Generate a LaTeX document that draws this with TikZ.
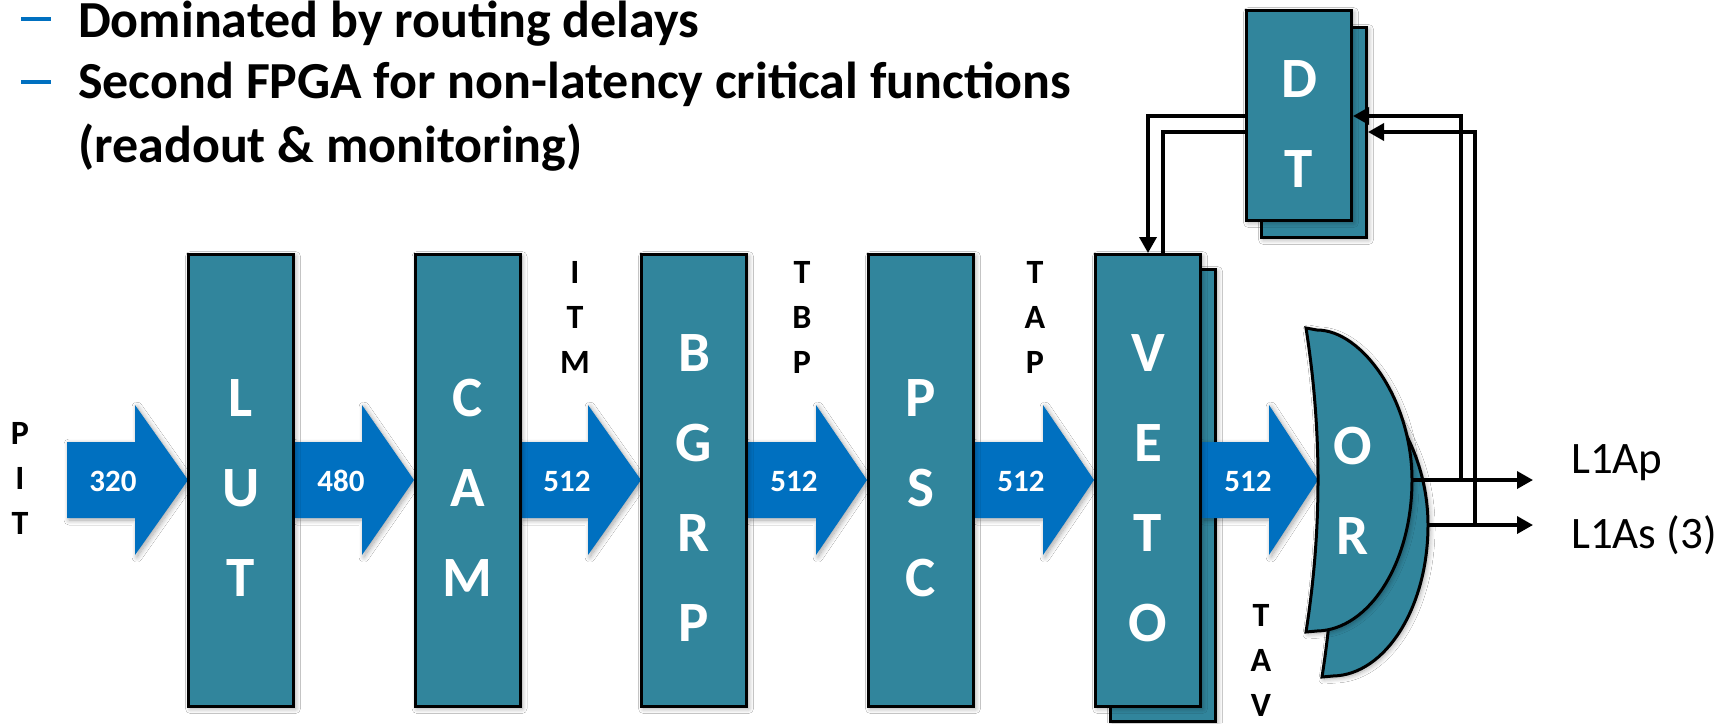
\documentclass[tikz,border=0pt]{standalone}
\usepackage{fontspec}
\setmainfont{Carlito}
\usetikzlibrary{arrows.meta,shadows.blur,calc}
\definecolor{stageteal}{HTML}{31859C}
\definecolor{flowblue}{HTML}{0070C0}

\tikzset{
  softshadow/.style={blur shadow={shadow xshift=2pt, shadow yshift=-2pt,
      shadow blur radius=5pt, shadow blur steps=10, shadow opacity=35}},
  stage/.style={draw=black, line width=3pt, fill=stageteal, inner sep=0pt,
      minimum width=105pt, minimum height=452pt, softshadow},
  stageletters/.style={text=white, inner sep=0pt, align=center,
      font=\fontsize{57}{90}\selectfont\bfseries},
  sideletters/.style={inner sep=0pt, align=center,
      font=\fontsize{34}{45}\selectfont\bfseries},
  buswidth/.style={text=white, inner sep=0pt,
      font=\fontsize{31}{31}\selectfont\bfseries},
  flowarrow/.style={fill=flowblue, softshadow},
  gate/.style={draw=black, line width=3pt, fill=stageteal, softshadow},
  wire/.style={draw=black, line width=3.5pt},
  wiretip/.style={-{Triangle[length=16pt,width=17pt]}},
  headline/.style={inner sep=0pt, anchor=base west,
      font=\fontsize{52}{62}\selectfont\bfseries},
  outlabel/.style={inner sep=0pt, anchor=base west,
      font=\fontsize{45}{45}\selectfont},
  bulletdash/.style={draw=flowblue, line width=4pt},
}

% wide block arrow: tail x, head base x, tip x, label, label name
\newcommand\busarrow[5]{%
  \fill[flowarrow] (#1,442) -- (#2,442) -- (#2,405) -- (#3,480)
    -- (#2,555) -- (#2,518) -- (#1,518) -- cycle;
  \node[buswidth] (#5) at (#1+46,481) {#4};
}

% OR gate outline, drawn at the current origin
\newcommand\orgate{%
  (1306,328) -- (1317,330)
  .. controls (1362,330) and (1412,400) .. (1412,480)
  .. controls (1412,563) and (1369,630) .. (1317,631)
  -- (1306,632)
  .. controls (1322,530) and (1322,430) .. (1306,328) -- cycle}

\begin{document}
\begin{tikzpicture}[x=1pt,y=-1pt]
\fill[white] (0,0) rectangle (1734,723);
\useasboundingbox (0,0) rectangle (1734,723);

% bullet lines
\draw[bulletdash] (21,19) -- (51,19);
\draw[bulletdash] (21,82) -- (51,82);
\node[headline] (line1) at (78,37) {Dominated by routing delays};
\node[headline] (line2) at (78,98) {Second FPGA for non-latency critical functions};
\node[headline] (line3) at (78,162) {(readout \& monitoring)};

% stacked copies behind the VETO and DT stages
\node[stage] (vetoback) at (1163,495.5) {};
\node[stage, minimum height=210pt] (dtback) at (1314,132.5) {};

% data flow between the stages
\busarrow{67}{135}{188}{320}{bus1}
\busarrow{295}{362}{414}{480}{bus2}
\busarrow{521}{588}{641}{512}{bus3}
\busarrow{748}{816}{867}{512}{bus4}
\busarrow{975}{1043}{1094}{512}{bus5}
\busarrow{1202}{1269}{1318}{512}{bus6}

% processing stages
\node[stage] (lut)  at (241,480.5) {};
\node[stage] (cam)  at (467.5,480.5) {};
\node[stage] (bgrp) at (694,480.5) {};
\node[stage] (psc)  at (921,480.5) {};
\node[stage] (veto) at (1148,480.5) {};
\node[stage, minimum height=210pt] (dt) at (1299,115.5) {};

\node[stageletters] (lutname)  at (241,488)   {L\\U\\T};
\node[stageletters] (camname)  at (467.5,488) {C\\A\\M};
\node[stageletters] (bgrpname) at (694,488)   {B\\G\\R\\P};
\node[stageletters] (pscname)  at (921,488)   {P\\S\\C};
\node[stageletters] (vetoname) at (1148,488)  {V\\E\\T\\O};
\node[stageletters] (dtname)   at (1299,124)  {D\\T};

% OR gate with its copy
\begin{scope}[shift={(16,45)}]
  \path[gate] \orgate;
\end{scope}
\path[gate] \orgate;
\node[stageletters] (orname) at (1353,491) {O\\R};

% signal names beside the buses
\node[sideletters] (pit) at (20,478)   {P\\I\\T};
\node[sideletters] (itm) at (575,317)  {I\\T\\M};
\node[sideletters] (tbp) at (802,317)  {T\\B\\P};
\node[sideletters] (tap) at (1035,317) {T\\A\\P};
\node[sideletters] (tav) at (1261,660)  {T\\A\\V};

% outputs and the dead-time loop
\coordinate (orout1) at (1412,480);
\coordinate (orout2) at (1428,525);
\coordinate (tap1) at (1461,480);
\coordinate (tap2) at (1475,525);
\coordinate (l1ap) at (1533,480);
\coordinate (l1as) at (1533,525);

\draw[wire,wiretip] (dt.west |- 0,116) -| (veto.north -| 1148,0);
\draw[wire] (dt.west |- 0,132) -| (veto.north -| 1163,0);
\draw[wire,wiretip] (tap1) |- (dt.east |- 0,116);
\draw[wire,wiretip] (tap2) |- (dtback.east |- 0,132);
\draw[wire,wiretip] (orout1) -- (l1ap);
\draw[wire,wiretip] (orout2) -- (l1as);

\node[outlabel] (l1aptext) at (1571,473) {L1Ap};
\node[outlabel] (l1astext) at (1571,548) {L1As (3)};
\end{tikzpicture}
\end{document}
